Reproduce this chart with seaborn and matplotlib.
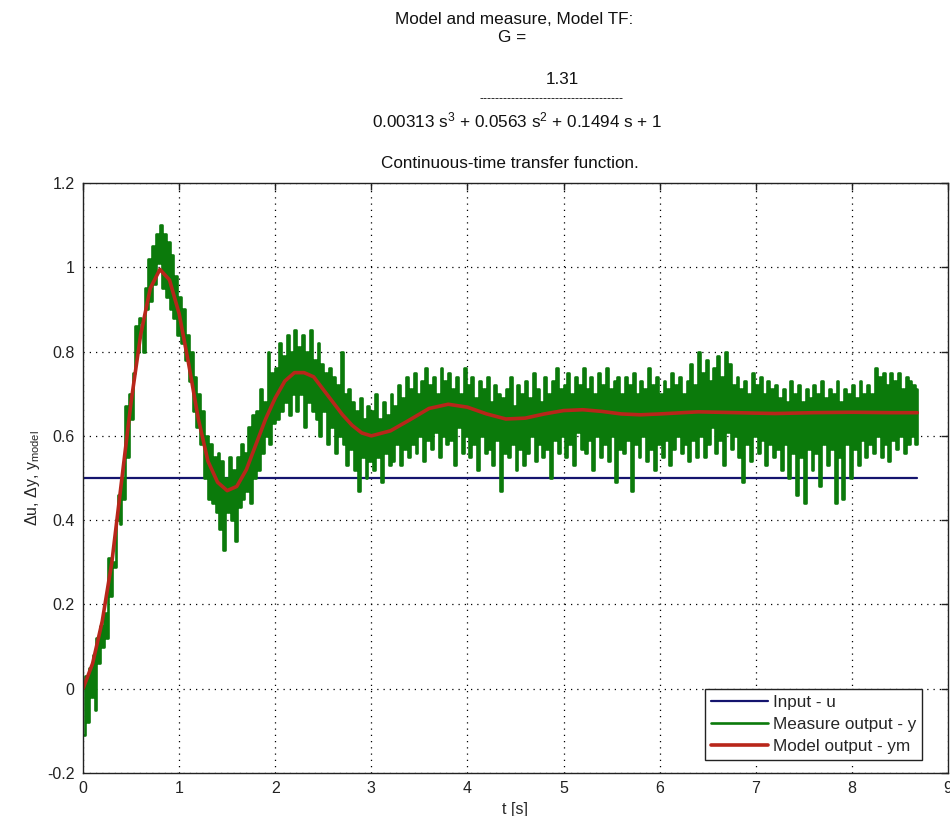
import numpy as np
import pandas as pd
import matplotlib
matplotlib.use("Agg")
import matplotlib.pyplot as plt
import seaborn as sns

# ---------------- data ----------------
sample_dt = 0.02  # sampling interval of the measured signal [s]

measured_y = [
    -0.11, 0.03, -0.08, 0.05, -0.02, 0.08, -0.05, 0.12, 0.06, 0.15,
    0.10, 0.18, 0.12, 0.31, 0.22, 0.30, 0.29, 0.40, 0.46, 0.39,
    0.50, 0.45, 0.67, 0.55, 0.70, 0.64, 0.75, 0.86, 0.80, 0.88,
    0.87, 0.80, 0.95, 0.90, 1.02, 0.92, 1.05, 0.96, 1.08, 1.01,
    1.10, 0.95, 1.08, 0.93, 1.06, 0.90, 1.03, 0.88, 0.98, 0.84,
    0.93, 0.82, 0.90, 0.78, 0.84, 0.73, 0.80, 0.66, 0.74, 0.62,
    0.70, 0.58, 0.66, 0.50, 0.60, 0.45, 0.58, 0.44, 0.55, 0.42,
    0.56, 0.38, 0.54, 0.33, 0.50, 0.42, 0.55, 0.40, 0.52, 0.35,
    0.55, 0.43, 0.58, 0.45, 0.56, 0.47, 0.62, 0.44, 0.65, 0.50,
    0.66, 0.52, 0.71, 0.56, 0.68, 0.60, 0.80, 0.58, 0.75, 0.63,
    0.76, 0.64, 0.82, 0.66, 0.79, 0.68, 0.84, 0.65, 0.80, 0.70,
    0.85, 0.66, 0.81, 0.70, 0.84, 0.62, 0.80, 0.68, 0.85, 0.66,
    0.78, 0.64, 0.82, 0.60, 0.77, 0.66, 0.75, 0.58, 0.76, 0.62,
    0.74, 0.56, 0.72, 0.60, 0.80, 0.58, 0.70, 0.53, 0.71, 0.57,
    0.68, 0.52, 0.66, 0.47, 0.69, 0.55, 0.64, 0.50, 0.67, 0.54,
    0.66, 0.52, 0.70, 0.55, 0.64, 0.49, 0.68, 0.56, 0.65, 0.53,
    0.70, 0.54, 0.67, 0.58, 0.72, 0.53, 0.69, 0.57, 0.74, 0.55,
    0.71, 0.58, 0.75, 0.56, 0.70, 0.60, 0.73, 0.54, 0.76, 0.59,
    0.72, 0.57, 0.74, 0.61, 0.70, 0.55, 0.76, 0.60, 0.73, 0.58,
    0.75, 0.59, 0.71, 0.53, 0.74, 0.62, 0.70, 0.56, 0.76, 0.60,
    0.72, 0.55, 0.74, 0.58, 0.69, 0.52, 0.73, 0.60, 0.71, 0.56,
    0.74, 0.57, 0.68, 0.53, 0.72, 0.59, 0.70, 0.47, 0.69, 0.56,
    0.71, 0.55, 0.74, 0.58, 0.67, 0.52, 0.72, 0.57, 0.70, 0.53,
    0.73, 0.56, 0.69, 0.60, 0.75, 0.54, 0.71, 0.58, 0.68, 0.55,
    0.74, 0.57, 0.70, 0.50, 0.73, 0.59, 0.76, 0.56, 0.71, 0.60,
    0.72, 0.55, 0.75, 0.58, 0.70, 0.53, 0.74, 0.61, 0.72, 0.57,
    0.76, 0.56, 0.71, 0.59, 0.74, 0.52, 0.70, 0.60, 0.75, 0.55,
    0.72, 0.58, 0.76, 0.54, 0.71, 0.60, 0.73, 0.49, 0.74, 0.57,
    0.70, 0.56, 0.74, 0.59, 0.72, 0.47, 0.75, 0.58, 0.70, 0.55,
    0.73, 0.60, 0.71, 0.54, 0.76, 0.57, 0.72, 0.52, 0.74, 0.58,
    0.70, 0.55, 0.73, 0.59, 0.71, 0.53, 0.75, 0.57, 0.72, 0.60,
    0.74, 0.56, 0.70, 0.58, 0.73, 0.54, 0.77, 0.59, 0.72, 0.55,
    0.80, 0.60, 0.75, 0.55, 0.78, 0.58, 0.73, 0.62, 0.76, 0.56,
    0.79, 0.59, 0.74, 0.53, 0.80, 0.61, 0.77, 0.57, 0.72, 0.60,
    0.74, 0.55, 0.71, 0.49, 0.73, 0.58, 0.70, 0.54, 0.75, 0.60,
    0.72, 0.56, 0.74, 0.59, 0.70, 0.53, 0.73, 0.58, 0.71, 0.55,
    0.72, 0.57, 0.69, 0.52, 0.71, 0.58, 0.68, 0.50, 0.73, 0.56,
    0.70, 0.46, 0.72, 0.55, 0.68, 0.44, 0.71, 0.57, 0.69, 0.52,
    0.72, 0.56, 0.70, 0.48, 0.73, 0.58, 0.69, 0.53, 0.71, 0.57,
    0.70, 0.44, 0.73, 0.55, 0.68, 0.45, 0.71, 0.58, 0.70, 0.50,
    0.72, 0.57, 0.69, 0.53, 0.73, 0.59, 0.70, 0.55, 0.72, 0.58,
    0.70, 0.56, 0.76, 0.60, 0.74, 0.55, 0.75, 0.58, 0.72, 0.54,
    0.75, 0.59, 0.73, 0.57, 0.75, 0.60, 0.71, 0.56, 0.74, 0.58,
    0.73, 0.60, 0.72, 0.58, 0.71,
]

model_t = [0.0, 0.1, 0.2, 0.3, 0.4, 0.5, 0.6, 0.7, 0.8, 0.9, 1.0, 1.1, 1.2,
           1.3, 1.4, 1.5, 1.6, 1.7, 1.8, 1.9, 2.0, 2.1, 2.2, 2.3, 2.4, 2.5,
           2.6, 2.7, 2.8, 2.9, 3.0, 3.2, 3.4, 3.6, 3.8, 4.0, 4.2, 4.4, 4.6,
           4.8, 5.0, 5.2, 5.4, 5.6, 5.8, 6.0, 6.4, 6.8, 7.2, 7.6, 8.0, 8.4,
           8.68]
model_y = [0.0, 0.06, 0.16, 0.30, 0.49, 0.68, 0.84, 0.95, 0.995, 0.97, 0.89,
           0.77, 0.64, 0.54, 0.49, 0.47, 0.48, 0.52, 0.58, 0.64, 0.69, 0.73,
           0.75, 0.75, 0.74, 0.71, 0.68, 0.65, 0.625, 0.607, 0.60, 0.612,
           0.638, 0.665, 0.675, 0.668, 0.652, 0.64, 0.642, 0.652, 0.66,
           0.662, 0.658, 0.652, 0.65, 0.652, 0.657, 0.655, 0.653, 0.655,
           0.656, 0.655, 0.655]

input_t = [0.0, 8.68]
input_u = [0.5, 0.5]

x_ticks = [0, 1, 2, 3, 4, 5, 6, 7, 8, 9]
y_ticks = [-0.2, 0, 0.2, 0.4, 0.6, 0.8, 1.0, 1.2]
y_tick_labels = ["-0.2", "0", "0.2", "0.4", "0.6", "0.8", "1", "1.2"]

series_labels = ["Input - u", "Measure output - y", "Model output - ym"]

# ---------------- styling ----------------
sns.set_style("white")
plt.rcParams["font.family"] = ["Liberation Sans", "DejaVu Sans"]
plt.rcParams["mathtext.fontset"] = "custom"
plt.rcParams["mathtext.rm"] = "Liberation Sans"
plt.rcParams["mathtext.it"] = "Liberation Sans:italic"
plt.rcParams["mathtext.bf"] = "Liberation Sans:bold"

FS = 11.5
TFS = 12.3
W, H = 950, 816
fig = plt.figure(figsize=(W / 100, H / 100), dpi=100)
fig.patch.set_facecolor("white")
ax = fig.add_axes([83 / W, 1 - 773 / H, (948 - 83) / W, (773 - 183) / H])

meas_df = pd.DataFrame({"t": np.arange(len(measured_y)) * sample_dt,
                        "y": measured_y})
model_df = pd.DataFrame({"t": model_t, "y": model_y})
input_df = pd.DataFrame({"t": input_t, "u": input_u})

c_blue, c_green, c_red = "#14146e", "#0b7a0b", "#b8261a"

sns.lineplot(data=input_df, x="t", y="u", ax=ax, color=c_blue, lw=1.6,
             estimator=None, label=series_labels[0])
sns.lineplot(data=meas_df, x="t", y="y", ax=ax, color=c_green, lw=1.9,
             estimator=None, drawstyle="steps-post", label=series_labels[1])
sns.lineplot(data=model_df, x="t", y="y", ax=ax, color=c_red, lw=2.6,
             estimator=None, label=series_labels[2])

ax.set_xlim(0, 9)
ax.set_ylim(-0.2, 1.2)
ax.set_xticks(x_ticks)
ax.set_yticks(y_ticks)
ax.set_yticklabels(y_tick_labels)
ax.tick_params(direction="in", length=5, width=1, top=True, right=True,
               labelsize=FS, colors="#222222", pad=6)
ax.grid(True, color="black", linestyle=(0, (1, 4)), linewidth=0.9)
for s in ax.spines.values():
    s.set_color("#222222")
    s.set_linewidth(1.0)

ax.set_xlabel("t [s]", fontsize=FS, labelpad=4)
ax.set_ylabel("Δu, Δy, y$_{\\mathrm{model}}$", fontsize=FS, labelpad=4)

leg = ax.legend(loc="lower right", bbox_to_anchor=(0.970, 0.022),
                fontsize=12.3, frameon=True, fancybox=False, framealpha=1,
                edgecolor="#222222", handlelength=3.3, handletextpad=0.3,
                borderpad=0.35, labelspacing=0.42, borderaxespad=0)
leg.get_frame().set_linewidth(1.0)

# ---------------- multi-line title ----------------
def ftext(x, y, s, size=TFS):
    fig.text(x / W, 1 - y / H, s, ha="center", va="center",
             fontsize=size, color="#111111")

ftext(514, 20, "Model and measure, Model TF:")
ftext(512, 38, "G =")
ftext(562, 80, "1.31")
ftext(552, 99, "-" * 36, size=9)
ftext(517, 120, "0.00313 s$^{3}$ + 0.0563 s$^{2}$ + 0.1494 s + 1")
ftext(510, 164, "Continuous-time transfer function.")

fig.savefig("out.png", dpi=100, facecolor="white")
